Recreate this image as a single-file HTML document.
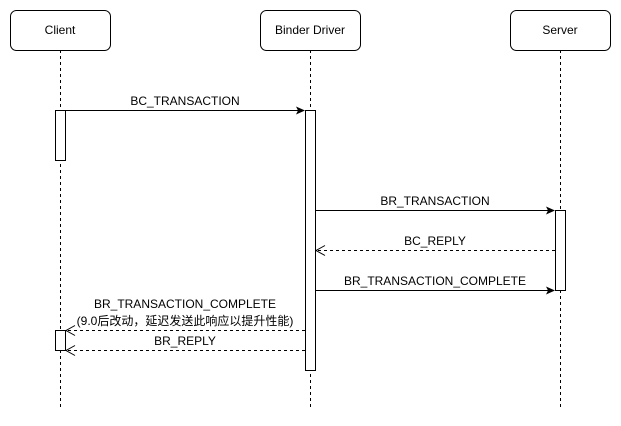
<!DOCTYPE html>
<html><head><meta charset="utf-8"><style>body{margin:0;background:#fff}</style></head><body>
<svg width="621" height="421" xmlns="http://www.w3.org/2000/svg" font-family="'Liberation Sans','Noto Sans CJK SC',sans-serif" font-size="12">
<g stroke="#000" fill="none">
<line x1="60.5" y1="50" x2="60.5" y2="408" stroke-dasharray="3,3"/>
<line x1="310.5" y1="50" x2="310.5" y2="408" stroke-dasharray="3,3"/>
<line x1="560.5" y1="50" x2="560.5" y2="408" stroke-dasharray="3,3"/>
<rect x="10.5" y="10.5" width="100" height="40" rx="6" fill="#fff"/>
<rect x="260.5" y="10.5" width="100" height="40" rx="6" fill="#fff"/>
<rect x="510.5" y="10.5" width="100" height="40" rx="6" fill="#fff"/>
<rect x="55.5" y="110.5" width="10" height="50" fill="#fff"/>
<rect x="305.5" y="110.5" width="10" height="260" fill="#fff"/>
<rect x="555.5" y="210.5" width="10" height="80" fill="#fff"/>
<rect x="55.5" y="330.5" width="10" height="20" fill="#fff"/>
<line x1="65" y1="110.5" x2="298" y2="110.5"/>
<line x1="315" y1="210.5" x2="548" y2="210.5"/>
<line x1="315" y1="290.5" x2="548" y2="290.5"/>
<line x1="555" y1="250.5" x2="316" y2="250.5" stroke-dasharray="3,3"/>
<line x1="305" y1="330.5" x2="66" y2="330.5" stroke-dasharray="3,3"/>
<line x1="305" y1="350.5" x2="66" y2="350.5" stroke-dasharray="3,3"/>
<polyline points="325,245.5 316,250.5 325,255.5"/>
<polyline points="75,325.5 66,330.5 75,335.5"/>
<polyline points="75,345.5 66,350.5 75,355.5"/>
</g>
<g fill="#000">
<polygon points="305,110.5 296,106.5 298,110.5 296,114.5"/>
<polygon points="555,210.5 546,206.5 548,210.5 546,214.5"/>
<polygon points="555,290.5 546,286.5 548,290.5 546,294.5"/>
</g>
<g fill="#000" text-anchor="middle">
<text x="60" y="34">Client</text>
<text x="310" y="34">Binder Driver</text>
<text x="560" y="34">Server</text>
<text x="185" y="105">BC_TRANSACTION</text>
<text x="435" y="205">BR_TRANSACTION</text>
<text x="435" y="245">BC_REPLY</text>
<text x="435" y="285">BR_TRANSACTION_COMPLETE</text>
<text x="185" y="308">BR_TRANSACTION_COMPLETE</text>
<text x="185" y="325">(9.0后改动，延迟发送此响应以提升性能)</text>
<text x="185" y="345">BR_REPLY</text>
</g>
</svg>
</body></html>
